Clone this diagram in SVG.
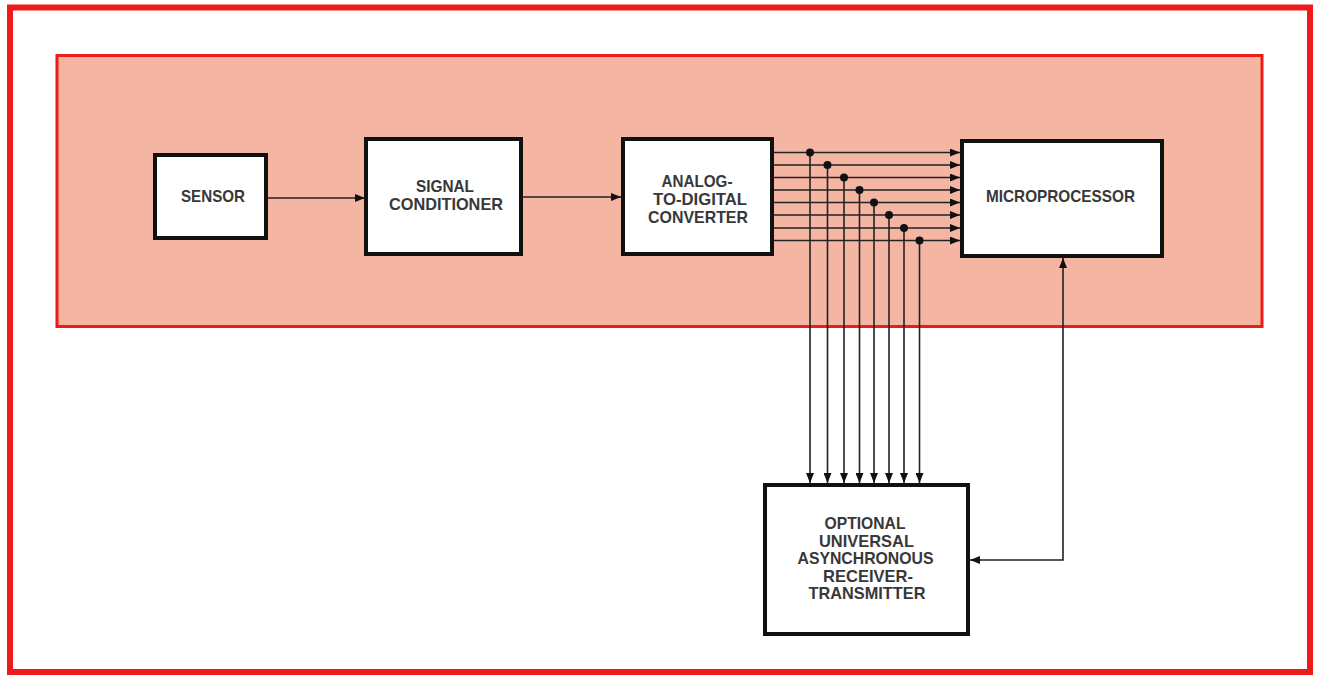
<svg xmlns="http://www.w3.org/2000/svg" width="1320" height="677" viewBox="0 0 1320 677">
<defs>
<style>
.box{fill:#fff;stroke:#111;stroke-width:4}
.lbl{font-family:"Liberation Sans",Arial,sans-serif;font-weight:bold;font-size:17px;fill:#383838;text-anchor:middle}
.wire{stroke:#222;stroke-width:1.6;fill:none}
.dot{fill:#111}
</style>
<marker id="ah" viewBox="0 0 10 8" refX="10" refY="4" markerWidth="10" markerHeight="8" markerUnits="userSpaceOnUse" orient="auto">
<path d="M0,0 L10,4 L0,8 Z" fill="#111"/>
</marker>
<marker id="ahs" viewBox="0 0 10 8" refX="10" refY="4" markerWidth="10" markerHeight="8" markerUnits="userSpaceOnUse" orient="auto-start-reverse">
<path d="M0,0 L10,4 L0,8 Z" fill="#111"/>
</marker>
</defs>
<rect x="0" y="0" width="1320" height="677" fill="#fff"/>
<rect id="frame" x="10" y="7.5" width="1300" height="664.5" fill="none" stroke="#ee1b1b" stroke-width="6"/>
<rect id="panel" x="57" y="55.5" width="1205" height="271" fill="#f4b5a3" stroke="#ee1b1b" stroke-width="3"/>

<g id="connectors">
<line class="wire" x1="266" y1="198" x2="365" y2="198" marker-end="url(#ah)"/>
<line class="wire" x1="521" y1="197" x2="621" y2="197" marker-end="url(#ah)"/>
<g>
<line class="wire" x1="772" y1="152.5" x2="960" y2="152.5" marker-end="url(#ah)"/>
<line class="wire" x1="772" y1="165" x2="960" y2="165" marker-end="url(#ah)"/>
<line class="wire" x1="772" y1="177.5" x2="960" y2="177.5" marker-end="url(#ah)"/>
<line class="wire" x1="772" y1="190" x2="960" y2="190" marker-end="url(#ah)"/>
<line class="wire" x1="772" y1="202.5" x2="960" y2="202.5" marker-end="url(#ah)"/>
<line class="wire" x1="772" y1="215" x2="960" y2="215" marker-end="url(#ah)"/>
<line class="wire" x1="772" y1="228" x2="960" y2="228" marker-end="url(#ah)"/>
<line class="wire" x1="772" y1="240.5" x2="960" y2="240.5" marker-end="url(#ah)"/>
</g>
<g>
<line class="wire" x1="810" y1="152.5" x2="810" y2="483" marker-end="url(#ah)"/>
<line class="wire" x1="827.5" y1="165" x2="827.5" y2="483" marker-end="url(#ah)"/>
<line class="wire" x1="844" y1="177.5" x2="844" y2="483" marker-end="url(#ah)"/>
<line class="wire" x1="859.5" y1="190" x2="859.5" y2="483" marker-end="url(#ah)"/>
<line class="wire" x1="874" y1="202.5" x2="874" y2="483" marker-end="url(#ah)"/>
<line class="wire" x1="889" y1="215" x2="889" y2="483" marker-end="url(#ah)"/>
<line class="wire" x1="904" y1="228" x2="904" y2="483" marker-end="url(#ah)"/>
<line class="wire" x1="919.5" y1="240.5" x2="919.5" y2="483" marker-end="url(#ah)"/>
</g>
<g>
<circle class="dot" cx="810" cy="152.5" r="4"/>
<circle class="dot" cx="827.5" cy="165" r="4"/>
<circle class="dot" cx="844" cy="177.5" r="4"/>
<circle class="dot" cx="859.5" cy="190" r="4"/>
<circle class="dot" cx="874" cy="202.5" r="4"/>
<circle class="dot" cx="889" cy="215" r="4"/>
<circle class="dot" cx="904" cy="228" r="4"/>
<circle class="dot" cx="919.5" cy="240.5" r="4"/>
</g>
<polyline class="wire" points="1063,258 1063,560 970,560" marker-start="url(#ahs)" marker-end="url(#ah)"/>
</g>

<g id="sensor">
<rect class="box" x="155" y="155" width="111" height="83"/>
<text class="lbl" x="213" y="202" textLength="64" lengthAdjust="spacingAndGlyphs">SENSOR</text>
</g>
<g id="signal-conditioner">
<rect class="box" x="366" y="139" width="155" height="115"/>
<text class="lbl" x="445" y="192" textLength="58" lengthAdjust="spacingAndGlyphs">SIGNAL</text>
<text class="lbl" x="446" y="210" textLength="114" lengthAdjust="spacingAndGlyphs">CONDITIONER</text>
</g>
<g id="adc">
<rect class="box" x="623" y="139" width="149" height="115"/>
<text class="lbl" x="697" y="187" textLength="71" lengthAdjust="spacingAndGlyphs">ANALOG-</text>
<text class="lbl" x="700" y="205" textLength="94" lengthAdjust="spacingAndGlyphs">TO-DIGITAL</text>
<text class="lbl" x="698" y="222.5" textLength="100" lengthAdjust="spacingAndGlyphs">CONVERTER</text>
</g>
<g id="microprocessor">
<rect class="box" x="962" y="141" width="200" height="115"/>
<text class="lbl" x="1060.5" y="202" textLength="149" lengthAdjust="spacingAndGlyphs">MICROPROCESSOR</text>
</g>
<g id="uart">
<rect class="box" x="765" y="485" width="203" height="149"/>
<text class="lbl" x="865" y="529" textLength="81" lengthAdjust="spacingAndGlyphs">OPTIONAL</text>
<text class="lbl" x="866.5" y="546.5" textLength="95" lengthAdjust="spacingAndGlyphs">UNIVERSAL</text>
<text class="lbl" x="865.5" y="564" textLength="136" lengthAdjust="spacingAndGlyphs">ASYNCHRONOUS</text>
<text class="lbl" x="868" y="581.5" textLength="90" lengthAdjust="spacingAndGlyphs">RECEIVER-</text>
<text class="lbl" x="867" y="599" textLength="117" lengthAdjust="spacingAndGlyphs">TRANSMITTER</text>
</g>
</svg>
